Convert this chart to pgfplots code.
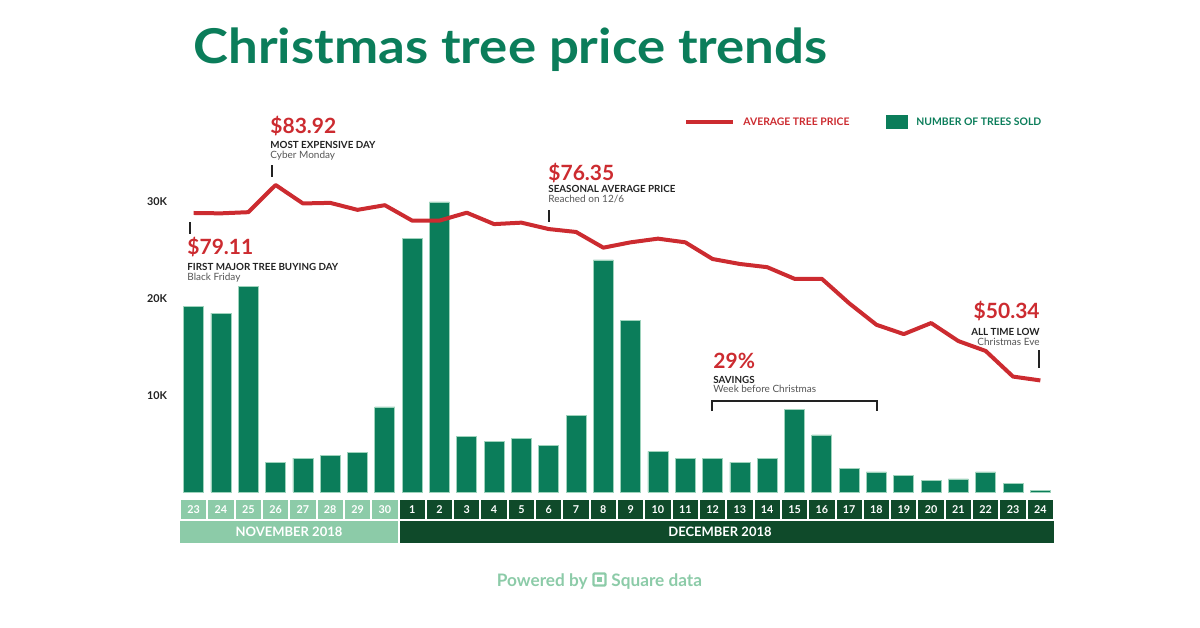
\documentclass[border=0pt]{standalone}
\usepackage{pgfplots}
\pgfplotsset{compat=1.18}
\usepackage{pgfplotstable}
\usepackage{fontspec}
\setmainfont{Lato}
\definecolor{tgreen}{HTML}{0B7D5A}
\definecolor{tedge}{HTML}{9ED3BC}
\definecolor{tred}{HTML}{CC2B30}
\definecolor{lgreen}{HTML}{8CCBA8}
\definecolor{dgreen}{HTML}{0F4A2A}
\definecolor{tgray}{HTML}{555555}
\definecolor{tblack}{HTML}{222222}

\pgfplotstableread{
x sold
0 19200
1 18500
2 21300
3 3100
4 3500
5 3800
6 4100
7 8800
8 26200
9 30000
10 5700
11 5200
12 5500
13 4800
14 7900
15 24000
16 17700
17 4200
18 3500
19 3500
20 3100
21 3500
22 8500
23 5900
24 2400
25 2070
26 1700
27 1200
28 1350
29 2070
30 900
31 200
}\soldtable

\pgfplotstableread{
x price
0 79.11
1 79.05
2 79.25
3 83.92
4 80.75
5 80.85
6 79.65
7 80.45
8 77.8
9 77.8
10 79.16
11 77.2
12 77.45
13 76.35
14 75.85
15 73.15
16 74.07
17 74.7
18 74.07
19 71.2
20 70.35
21 69.8
22 67.8
23 67.8
24 63.6
25 59.9
26 58.3
27 60.2
28 57.1
29 55.4
30 51.0
31 50.34
}\pricetable

\newcommand{\bigf}{\fontsize{10.5}{11}\selectfont\bfseries}
\newcommand{\capf}{\fontsize{4.9}{6}\selectfont\bfseries}
\newcommand{\legf}{\fontsize{5.2}{6}\selectfont\bfseries}
\newcommand{\subf}{\fontsize{5.0}{6}\selectfont}

\begin{document}
\begin{tikzpicture}[x=0.5pt,y=-0.5pt]
\path[use as bounding box] (0,0) rectangle (1200,627);

% title
\node[anchor=base west, inner sep=0, text=tgreen, font=\fontsize{24}{24}\selectfont\bfseries] at (193,63) {\scalebox{1.1}[1]{Christmas tree price trends}};

% legend
\draw[tred, line width=2pt] (686,122) -- (733,122);
\node[anchor=base west, inner sep=0, text=tred, font=\legf] at (743,125) {AVERAGE TREE PRICE};
\fill[tgreen] (886,115) rectangle (908,129);
\node[anchor=base west, inner sep=0, text=tgreen, font=\legf] at (916,125) {NUMBER OF TREES SOLD};

% bars
\begin{axis}[at={(90pt,-246pt)}, anchor=south west, scale only axis,
  width=437pt, height=153.5pt,
  xmin=-0.5, xmax=31.5, ymin=0, ymax=31750,
  ybar, bar width=10pt,
  axis line style={draw=none}, major tick length=0pt,
  xtick=\empty,
  ytick={10000,20000,30000}, yticklabels={10K,20K,30K},
  scaled y ticks=false,
  yticklabel style={font=\fontsize{5.4}{6}\selectfont\bfseries, text=tblack, xshift=-3pt},
  /pgf/number format/assume math mode=true,
  clip=false]
\addplot[fill=tgreen, draw=tedge, line width=0.4pt] table[x=x, y=sold] {\soldtable};
\end{axis}

% price line
\begin{axis}[at={(90pt,-246pt)}, anchor=south west, scale only axis,
  width=437pt, height=153.5pt,
  xmin=-0.5, xmax=31.5, ymin=31.17, ymax=83.92,
  hide axis, clip=false]
\addplot[tred, line width=2pt, line join=round, no marks] table[x=x, y=price] {\pricetable};
\end{axis}

% annotations
\node[anchor=base west, inner sep=0, text=tred, font=\bigf] at (270,133) {\$83.92};
\node[anchor=base west, inner sep=0, text=tblack, font=\capf] at (270,148) {MOST EXPENSIVE DAY};
\node[anchor=base west, inner sep=0, text=tgray, font=\subf] at (270,158) {Cyber Monday};
\draw[tblack, line width=0.6pt] (272,165) -- (272,177);

\draw[tblack, line width=0.6pt] (190,222) -- (190,234);
\node[anchor=base west, inner sep=0, text=tred, font=\bigf] at (187,254) {\$79.11};
\node[anchor=base west, inner sep=0, text=tblack, font=\capf] at (187,270) {FIRST MAJOR TREE BUYING DAY};
\node[anchor=base west, inner sep=0, text=tgray, font=\subf] at (187,280) {Black Friday};

\node[anchor=base west, inner sep=0, text=tred, font=\bigf] at (548,180) {\$76.35};
\node[anchor=base west, inner sep=0, text=tblack, font=\capf] at (548,192) {SEASONAL AVERAGE PRICE};
\node[anchor=base west, inner sep=0, text=tgray, font=\subf] at (548,202) {Reached on 12/6};
\draw[tblack, line width=0.6pt] (549,210) -- (549,222);

\node[anchor=base east, inner sep=0, text=tred, font=\bigf] at (1040,318) {\$50.34};
\node[anchor=base east, inner sep=0, text=tblack, font=\capf] at (1040,335) {ALL TIME LOW};
\node[anchor=base east, inner sep=0, text=tgray, font=\subf] at (1040,345) {Christmas Eve};
\draw[tblack, line width=0.6pt] (1039,350) -- (1039,368);

\node[anchor=base west, inner sep=0, text=tred, font=\bigf] at (713,368) {29\%};
\node[anchor=base west, inner sep=0, text=tblack, font=\capf] at (713,383) {SAVINGS};
\node[anchor=base west, inner sep=0, text=tgray, font=\subf] at (713,392) {Week before Christmas};
\draw[tblack, line width=0.6pt] (712,411) -- (712,401) -- (877,401) -- (877,411);

% day boxes
\foreach \d [count=\i from 0] in {23,24,25,26,27,28,29,30,1,2,3,4,5,6,7,8,9,10,11,12,13,14,15,16,17,18,19,20,21,22,23,24} {
  \pgfmathsetmacro{\xa}{180+27.3125*\i+1}
  \pgfmathsetmacro{\xb}{180+27.3125*(\i+1)-1}
  \pgfmathsetmacro{\xc}{180+27.3125*(\i+0.5)}
  \ifnum\i<8 \def\bc{lgreen}\else\def\bc{dgreen}\fi
  \fill[\bc] (\xa,500) rectangle (\xb,519);
  \node[text=white, font=\fontsize{5.4}{6}\selectfont\bfseries, inner sep=0] at (\xc,510) {\d};
}
\fill[lgreen] (180,521) rectangle (397.5,543);
\fill[dgreen] (399.5,521) rectangle (1054,543);
\node[text=white, font=\fontsize{6.5}{7}\selectfont\bfseries, inner sep=0] at (289,532) {NOVEMBER 2018};
\node[text=white, font=\fontsize{6.5}{7}\selectfont\bfseries, inner sep=0] at (720,532) {DECEMBER 2018};

% footer
\node[anchor=base east, inner sep=0, text=lgreen, font=\fontsize{8.6}{9}\selectfont\bfseries] at (588,586) {Powered by};
\draw[lgreen, line width=1.2pt, rounded corners=0.5pt] (593.5,573.5) rectangle (605.5,585.5);
\fill[lgreen] (597,577) rectangle (602,582);
\node[anchor=base west, inner sep=0, text=lgreen, font=\fontsize{8.6}{9}\selectfont\bfseries] at (611,586) {Square data};
\end{tikzpicture}
\end{document}
